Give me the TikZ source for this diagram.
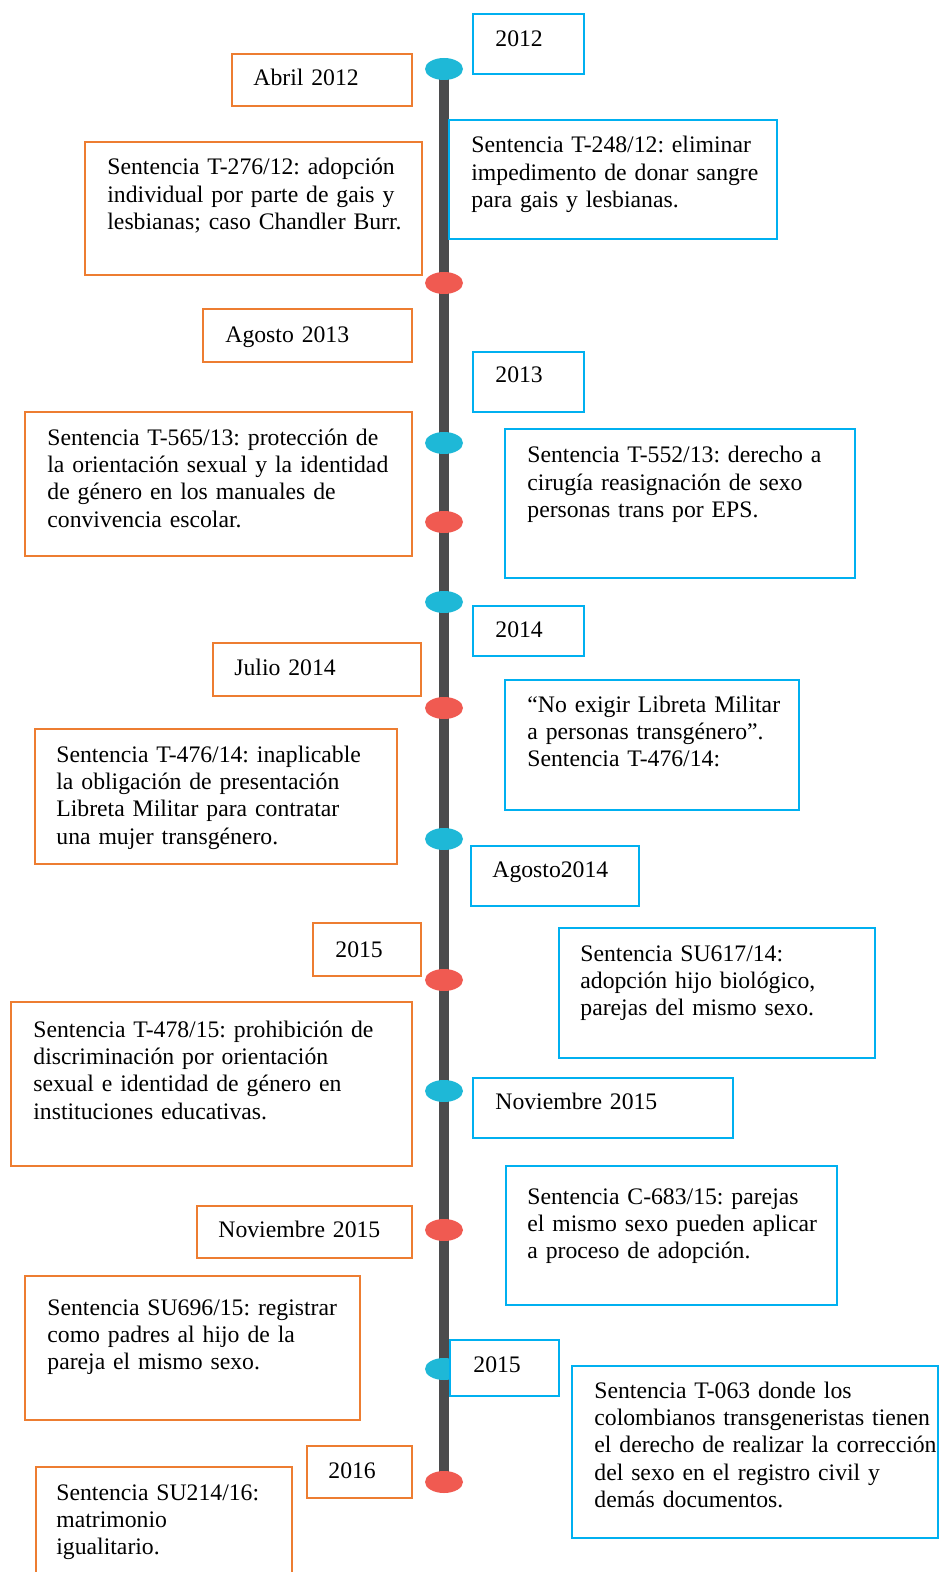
\documentclass[tikz,border=0pt]{standalone}
\usepackage{fontspec}
\setmainfont{Liberation Serif}
\usetikzlibrary{shapes.geometric}
\usetikzlibrary{fit}
\usetikzlibrary{backgrounds}

\definecolor{azul}{HTML}{00B0F0}
\definecolor{naranja}{HTML}{ED7D31}
\definecolor{gris}{HTML}{4B4B4D}
\definecolor{celeste}{HTML}{1EB8D7}
\definecolor{rojo}{HTML}{F05A51}

\begin{document}
\frenchspacing
\begin{tikzpicture}[x=0.5pt, y=-0.5pt,
    caja/.style={draw, line width=1pt, fill=white, inner sep=0pt},
    cajaaz/.style={caja, draw=azul},
    cajana/.style={caja, draw=naranja},
    texto/.style={anchor=base west, inner sep=0pt, text width=190pt, align=left,
      font=\fontsize{11.85}{13.7}\selectfont},
    hito/.style={ellipse, inner sep=0pt, minimum width=19pt, minimum height=11pt}]
    \useasboundingbox (0,0) rectangle (939,1572);

    % puntos de la linea
    \node[hito, fill=celeste] (h1) at (444,69) {};
    \node[hito, fill=rojo] (h2) at (444,283) {};
    \node[hito, fill=celeste] (h3) at (444,443) {};
    \node[hito, fill=rojo] (h4) at (444,522) {};
    \node[hito, fill=celeste] (h5) at (444,602) {};
    \node[hito, fill=rojo] (h6) at (444,708) {};
    \node[hito, fill=celeste] (h7) at (444,839) {};
    \node[hito, fill=rojo] (h8) at (444,980) {};
    \node[hito, fill=celeste] (h9) at (444,1091) {};
    \node[hito, fill=rojo] (h10) at (444,1230) {};
    \node[hito, fill=celeste] (h11) at (444,1369) {};
    \node[hito, fill=rojo] (h12) at (444,1482) {};
    \begin{scope}[on background layer]
      \draw[gris, line width=5pt] (h1.center) -- (h12.center);
    \end{scope}

    % cajas derecha
    \node[cajaaz, fit={(473,14) (584,74)}] (d1) {};
    \node[cajaaz, fit={(449,120) (777,239)}] (d2) {};
    \node[cajaaz, fit={(473,352) (584,412)}] (d3) {};
    \node[cajaaz, fit={(505,429) (855,578)}] (d4) {};
    \node[cajaaz, fit={(473,606) (584,656)}] (d5) {};
    \node[cajaaz, fit={(505,680) (799,810)}] (d6) {};
    \node[cajaaz, fit={(471,846) (639,906)}] (d7) {};
    \node[cajaaz, fit={(559,928) (875,1058)}] (d8) {};
    \node[cajaaz, fit={(473,1078) (733,1138)}] (d9) {};
    \node[cajaaz, fit={(506,1166) (837,1305)}] (d10) {};
    \node[cajaaz, fit={(450,1340) (559,1396)}] (d11) {};
    \node[cajaaz, fit={(572,1366) (938,1538)}] (d12) {};

    \node[texto] (td1) at (495,47) {2012};
    \node[texto] (td2) at (471,153) {Sentencia T-248/12: eliminar\\impedimento de donar sangre\\para gais y lesbianas.};
    \node[texto] (td3) at (495,383) {2013};
    \node[texto] (td4) at (527,463) {Sentencia T-552/13: derecho a\\cirugía reasignación de sexo\\personas trans por EPS.};
    \node[texto] (td5) at (495,637) {2014};
    \node[texto] (td6) at (527,712) {“No exigir Libreta Militar\\a personas transgénero”.\\Sentencia T-476/14:};
    \node[texto] (td7) at (492,877) {Agosto2014};
    \node[texto] (td8) at (580,961) {Sentencia SU617/14:\\adopción hijo biológico,\\parejas del mismo sexo.};
    \node[texto] (td9) at (495,1109) {Noviembre 2015};
    \node[texto] (td10) at (527,1204) {Sentencia C-683/15: parejas\\el mismo sexo pueden aplicar\\a proceso de adopción.};
    \node[texto] (td11) at (473,1372) {2015};
    \node[texto] (td12) at (594,1398) {Sentencia T-063 donde los\\colombianos transgeneristas tienen\\el derecho de realizar la corrección\\del sexo en el registro civil y\\demás documentos.};

    % cajas izquierda
    \node[cajana, fit={(232,54) (412,106)}] (i1) {};
    \node[cajana, fit={(85,142) (422,275)}] (i2) {};
    \node[cajana, fit={(203,309) (412,362)}] (i3) {};
    \node[cajana, fit={(25,412) (412,556)}] (i4) {};
    \node[cajana, fit={(213,643) (421,696)}] (i5) {};
    \node[cajana, fit={(35,729) (397,864)}] (i6) {};
    \node[cajana, fit={(313,923) (421,976)}] (i7) {};
    \node[cajana, fit={(11,1002) (412,1166)}] (i8) {};
    \node[cajana, fit={(197,1206) (412,1258)}] (i9) {};
    \node[cajana, fit={(25,1276) (360,1420)}] (i10) {};
    \node[cajana, fit={(307,1446) (412,1498)}] (i11) {};
    \node[cajana, fit={(36,1467) (292,1610)}] (i12) {};

    \node[texto] (ti1) at (253,86) {Abril 2012};
    \node[texto] (ti2) at (107,175) {Sentencia T-276/12: adopción\\individual por parte de gais y\\lesbianas; caso Chandler Burr.};
    \node[texto] (ti3) at (225,343) {Agosto 2013};
    \node[texto] (ti4) at (47,445) {Sentencia T-565/13: protección de\\la orientación sexual y la identidad\\de género en los manuales de\\convivencia escolar.};
    \node[texto] (ti5) at (234,675) {Julio 2014};
    \node[texto] (ti6) at (56,762) {Sentencia T-476/14: inaplicable\\la obligación de presentación\\Libreta Militar para contratar\\una mujer transgénero.};
    \node[texto] (ti7) at (335,957) {2015};
    \node[texto] (ti8) at (33,1037) {Sentencia T-478/15: prohibición de\\discriminación por orientación\\sexual e identidad de género en\\instituciones educativas.};
    \node[texto] (ti9) at (218,1237) {Noviembre 2015};
    \node[texto] (ti10) at (47,1315) {Sentencia SU696/15: registrar\\como padres al hijo de la\\pareja el mismo sexo.};
    \node[texto] (ti11) at (328,1478) {2016};
    \node[texto] (ti12) at (56,1500) {Sentencia SU214/16:\\matrimonio\\igualitario.};
\end{tikzpicture}
\end{document}
